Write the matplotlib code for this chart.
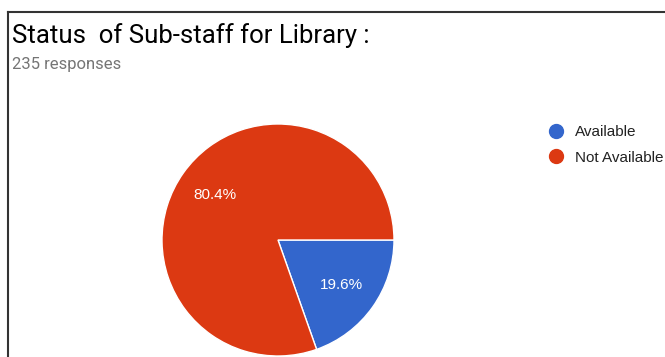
import matplotlib
matplotlib.use("Agg")
import matplotlib.pyplot as plt
from matplotlib.lines import Line2D

title = "Status  of Sub-staff for Library :"
subtitle = "235 responses"
labels = ["Available", "Not Available"]
values = [19.6, 80.4]
colors = ["#3366CC", "#DC3912"]

W, H = 665, 357
fig = plt.figure(figsize=(W / 100, H / 100), dpi=100)
plt.rcParams['font.family'] = ['Roboto', 'DejaVu Sans']

# border lines
fig.add_artist(Line2D([8 / W, 8 / W], [0, 1 - 12 / H], transform=fig.transFigure, color="#333333", lw=1.5))
fig.add_artist(Line2D([8 / W, 1], [1 - 12 / H, 1 - 12 / H], transform=fig.transFigure, color="#333333", lw=1.5))

fig.text(12 / W, 1 - 36 / H, title, fontsize=18.5, color="#000000", va="center", ha="left")
fig.text(12 / W, 1 - 65 / H, subtitle, fontsize=12, color="#757575", va="center", ha="left")

cx, cy, r = 278, 240, 116
ax = fig.add_axes([(cx - r) / W, (H - cy - r) / H, 2 * r / W, 2 * r / H])
wedges, texts, autotexts = ax.pie(
    values, colors=colors, startangle=0, counterclock=False,
    autopct="%.1f%%", pctdistance=0.67,
    wedgeprops=dict(edgecolor="white", linewidth=1),
    textprops=dict(color="white", fontsize=11, family=["Liberation Sans", "DejaVu Sans"]),
)
ax.set_xlim(-1.0, 1.0)
ax.set_ylim(-1.0, 1.0)
ax.set_aspect("auto")
ax.axis("off")

handles = [Line2D([], [], marker="o", linestyle="none", markersize=10,
                  markerfacecolor=c, markeredgecolor=c) for c in colors]
fig.legend(handles, labels, loc="center left", bbox_to_anchor=(548 / W, 1 - 145 / H),
           frameon=False, handlelength=1.0, handletextpad=0.75,
           labelspacing=0.73, borderpad=0, borderaxespad=0, labelcolor="#222222",
           prop=dict(family=["Liberation Sans", "DejaVu Sans"], size=11))

fig.savefig("out.png", dpi=100)
